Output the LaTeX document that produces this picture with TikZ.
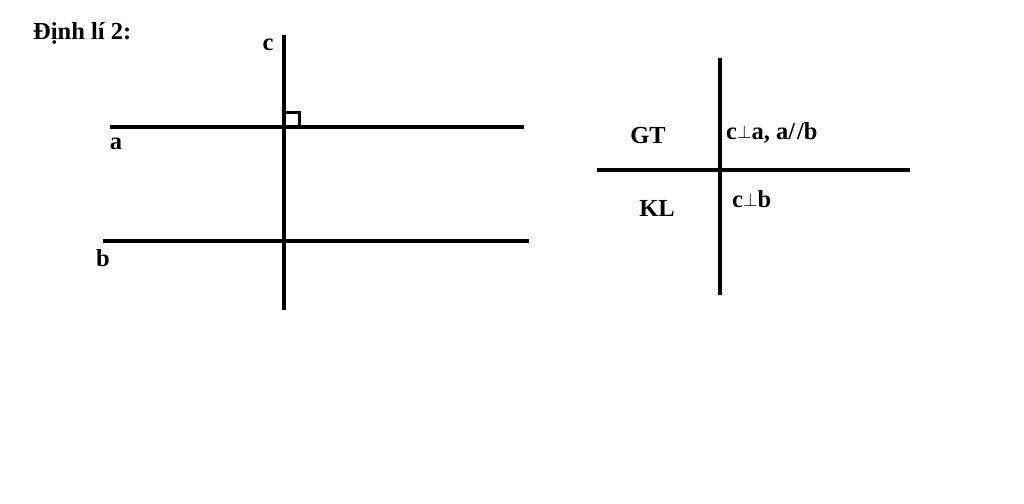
\documentclass[tikz,border=0pt]{standalone}
\usepackage{fontspec}
\setmainfont{Liberation Serif}
\newcommand{\pp}{\raisebox{0.05em}{\scalebox{0.75}{$\perp$}}}
\begin{document}
\begin{tikzpicture}[x=1pt,y=-1pt,
  ln/.style={line width=3.6pt},
  lbl/.style={font=\bfseries\fontsize{24.5}{28}\selectfont, inner sep=0pt}]
\useasboundingbox (0,0) rectangle (1024,503);
% geometry
\coordinate (cT) at (284,35); \coordinate (cB) at (284,310);
\coordinate (aL) at (110,127); \coordinate (aR) at (524,127);
\coordinate (bL) at (103,241); \coordinate (bR) at (529,241);
\draw[ln] (cT) -- (cB);
\draw[ln] (aL) -- (aR);
\draw[ln] (bL) -- (bR);
\draw[line width=3pt] (284,112) rectangle (299,127);
\node[lbl, anchor=west] (title) at (33,33) {Định lí 2:};
\node[lbl] (lc) at (268,45) {c};
\node[lbl] (la) at (116,144) {a};
\node[lbl] (lb) at (103,258) {b};
% table
\coordinate (vT) at (720,58); \coordinate (vB) at (720,295);
\coordinate (hL) at (597,170); \coordinate (hR) at (910,170);
\draw[ln] (vT) -- (vB);
\draw[ln] (hL) -- (hR);
\node[lbl] (gt) at (648,136) {GT};
\node[lbl] (kl) at (657,208) {KL};
\node[lbl, anchor=west] (gtx) at (726,133) {c\pp a, a/\kern0.08em/b};
\node[lbl, anchor=west] (klx) at (732,199) {c\pp b};
\end{tikzpicture}
\end{document}
